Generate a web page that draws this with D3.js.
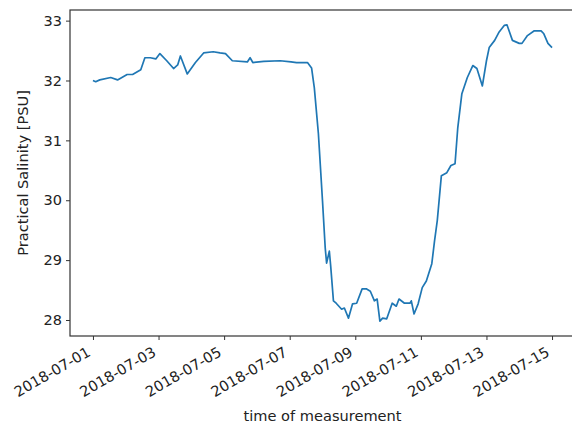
<!DOCTYPE html>
<html>
<head>
<meta charset="utf-8">
<script src="https://cdn.jsdelivr.net/npm/d3@7"></script>
<style>
  html, body { margin: 0; padding: 0; background: #fff; }
  svg { display: block; }
  text { font-family: "DejaVu Sans", sans-serif; fill: #222; }
</style>
</head>
<body>
<svg id="chart" width="572" height="430"></svg>
<script>
// Practical salinity time series, July 2018
const times = [
  "2018-07-01T00:00", "2018-07-01T02:00", "2018-07-01T05:00", "2018-07-01T13:00",
  "2018-07-01T18:00", "2018-07-02T01:00", "2018-07-02T05:00", "2018-07-02T11:00",
  "2018-07-02T14:00", "2018-07-02T18:00", "2018-07-02T22:00", "2018-07-03T01:00",
  "2018-07-03T06:00", "2018-07-03T11:00", "2018-07-03T14:00", "2018-07-03T16:00",
  "2018-07-03T21:00", "2018-07-04T03:00", "2018-07-04T09:00", "2018-07-04T16:00",
  "2018-07-04T21:00", "2018-07-05T01:00", "2018-07-05T06:00", "2018-07-05T17:00",
  "2018-07-05T19:00", "2018-07-05T21:00", "2018-07-06T05:00", "2018-07-06T17:00",
  "2018-07-07T01:00", "2018-07-07T05:00", "2018-07-07T13:00", "2018-07-07T16:00",
  "2018-07-07T18:00", "2018-07-07T21:00", "2018-07-08T00:00", "2018-07-08T02:00",
  "2018-07-08T03:00", "2018-07-08T05:00", "2018-07-08T06:00", "2018-07-08T08:00",
  "2018-07-08T10:00", "2018-07-08T14:00", "2018-07-08T16:00", "2018-07-08T19:00",
  "2018-07-08T22:00", "2018-07-09T01:00", "2018-07-09T05:00", "2018-07-09T08:00",
  "2018-07-09T11:00", "2018-07-09T14:00", "2018-07-09T16:00", "2018-07-09T18:00",
  "2018-07-09T20:00", "2018-07-09T23:00", "2018-07-10T01:00", "2018-07-10T03:00",
  "2018-07-10T06:00", "2018-07-10T08:00", "2018-07-10T12:00", "2018-07-10T16:00",
  "2018-07-10T17:00", "2018-07-10T19:00", "2018-07-10T22:00", "2018-07-11T01:00",
  "2018-07-11T04:00", "2018-07-11T08:00", "2018-07-11T10:00", "2018-07-11T12:00",
  "2018-07-11T14:00", "2018-07-11T15:00", "2018-07-11T19:00", "2018-07-11T22:00",
  "2018-07-12T01:00", "2018-07-12T03:00", "2018-07-12T06:00", "2018-07-12T10:00",
  "2018-07-12T14:00", "2018-07-12T17:00", "2018-07-12T21:00", "2018-07-13T00:00",
  "2018-07-13T02:00", "2018-07-13T06:00", "2018-07-13T09:00", "2018-07-13T13:00",
  "2018-07-13T15:00", "2018-07-13T19:00", "2018-07-14T00:00", "2018-07-14T02:00",
  "2018-07-14T06:00", "2018-07-14T11:00", "2018-07-14T16:00", "2018-07-14T18:00",
  "2018-07-14T21:00", "2018-07-15T00:00"
];
const salinity = [
  32.00, 31.98, 32.01, 32.05,
  32.01, 32.10, 32.10, 32.18,
  32.38, 32.38, 32.36, 32.45,
  32.33, 32.20, 32.26, 32.41,
  32.11, 32.30, 32.46, 32.48,
  32.46, 32.45, 32.33, 32.31,
  32.38, 32.30, 32.32, 32.33,
  32.31, 32.30, 32.30, 32.21,
  31.88, 31.11, 29.99, 29.20,
  28.95, 29.15, 28.90, 28.32,
  28.28, 28.18, 28.20, 28.03,
  28.27, 28.28, 28.52, 28.52,
  28.48, 28.32, 28.35, 27.98,
  28.03, 28.02, 28.15, 28.28,
  28.23, 28.35, 28.28, 28.28,
  28.32, 28.10, 28.27, 28.54,
  28.65, 28.94, 29.32, 29.66,
  30.16, 30.41, 30.46, 30.58,
  30.61, 31.21, 31.78, 32.05,
  32.25, 32.20, 31.91, 32.33,
  32.55, 32.67, 32.80, 32.92,
  32.93, 32.67, 32.62, 32.62,
  32.75, 32.83, 32.83, 32.78,
  32.62, 32.55
];
const yTicks = [28, 29, 30, 31, 32, 33];
const xTickDates = [
  "2018-07-01", "2018-07-03", "2018-07-05", "2018-07-07",
  "2018-07-09", "2018-07-11", "2018-07-13", "2018-07-15"
];
const yLabel = "Practical Salinity [PSU]";
const xLabel = "time of measurement";

const parseTime = d3.timeParse("%Y-%m-%dT%H:%M");
const parseDay = d3.timeParse("%Y-%m-%d");
const data = times.map((t, i) => ({ t: parseTime(t), v: salinity[i] }));

const svg = d3.select("#chart");
const plotLeft = 70, plotTop = 10, plotRight = 575, plotBottom = 336;

// 5% margins around the data extent on both axes
const [t0, t1] = d3.extent(data, d => d.t);
const tPad = (t1 - t0) * 0.05;
const x = d3.scaleTime()
  .domain([new Date(+t0 - tPad), new Date(+t1 + tPad)])
  .range([plotLeft, plotRight]);

const [v0, v1] = d3.extent(data, d => d.v);
const vPad = (v1 - v0) * 0.05;
const y = d3.scaleLinear()
  .domain([v0 - vPad, v1 + vPad])
  .range([plotBottom, plotTop]);

// line
svg.append("path")
  .datum(data)
  .attr("fill", "none")
  .attr("stroke", "#1f77b4")
  .attr("stroke-width", 1.7)
  .attr("stroke-linejoin", "round")
  .attr("d", d3.line().x(d => x(d.t)).y(d => y(d.v)));

// y axis
const yAxis = svg.append("g")
  .attr("transform", `translate(${plotLeft},0)`)
  .call(d3.axisLeft(y).tickValues(yTicks).tickFormat(d3.format("d"))
    .tickSize(4).tickPadding(4));
yAxis.select(".domain").remove();
yAxis.selectAll(".tick line").attr("stroke", "#333");
yAxis.selectAll(".tick text").attr("font-size", 14.5).attr("fill", "#222")
  .style("font-family", "'DejaVu Sans', sans-serif");

// x axis, date labels slanted 30 degrees
const xAxis = svg.append("g")
  .attr("transform", `translate(0,${plotBottom})`)
  .call(d3.axisBottom(x).tickValues(xTickDates.map(parseDay))
    .tickFormat(d3.timeFormat("%Y-%m-%d")).tickSize(4));
xAxis.select(".domain").remove();
xAxis.selectAll(".tick line").attr("stroke", "#333");
xAxis.selectAll(".tick text")
  .attr("font-size", 14.6)
  .attr("fill", "#222")
  .style("font-family", "'DejaVu Sans', sans-serif")
  .attr("text-anchor", "end")
  .attr("dy", null)
  .attr("y", null)
  .attr("transform", "translate(-2,19) rotate(-30)");

// frame
svg.append("rect")
  .attr("x", plotLeft).attr("y", plotTop)
  .attr("width", plotRight - plotLeft).attr("height", plotBottom - plotTop)
  .attr("fill", "none").attr("stroke", "#333").attr("stroke-width", 1.2);

// axis titles
svg.append("text")
  .attr("transform", `translate(28,${(plotTop + plotBottom) / 2}) rotate(-90)`)
  .attr("text-anchor", "middle")
  .attr("font-size", 14.6)
  .text(yLabel);

svg.append("text")
  .attr("x", (plotLeft + plotRight) / 2)
  .attr("y", 421)
  .attr("text-anchor", "middle")
  .attr("font-size", 14.6)
  .text(xLabel);
</script>
</body>
</html>
